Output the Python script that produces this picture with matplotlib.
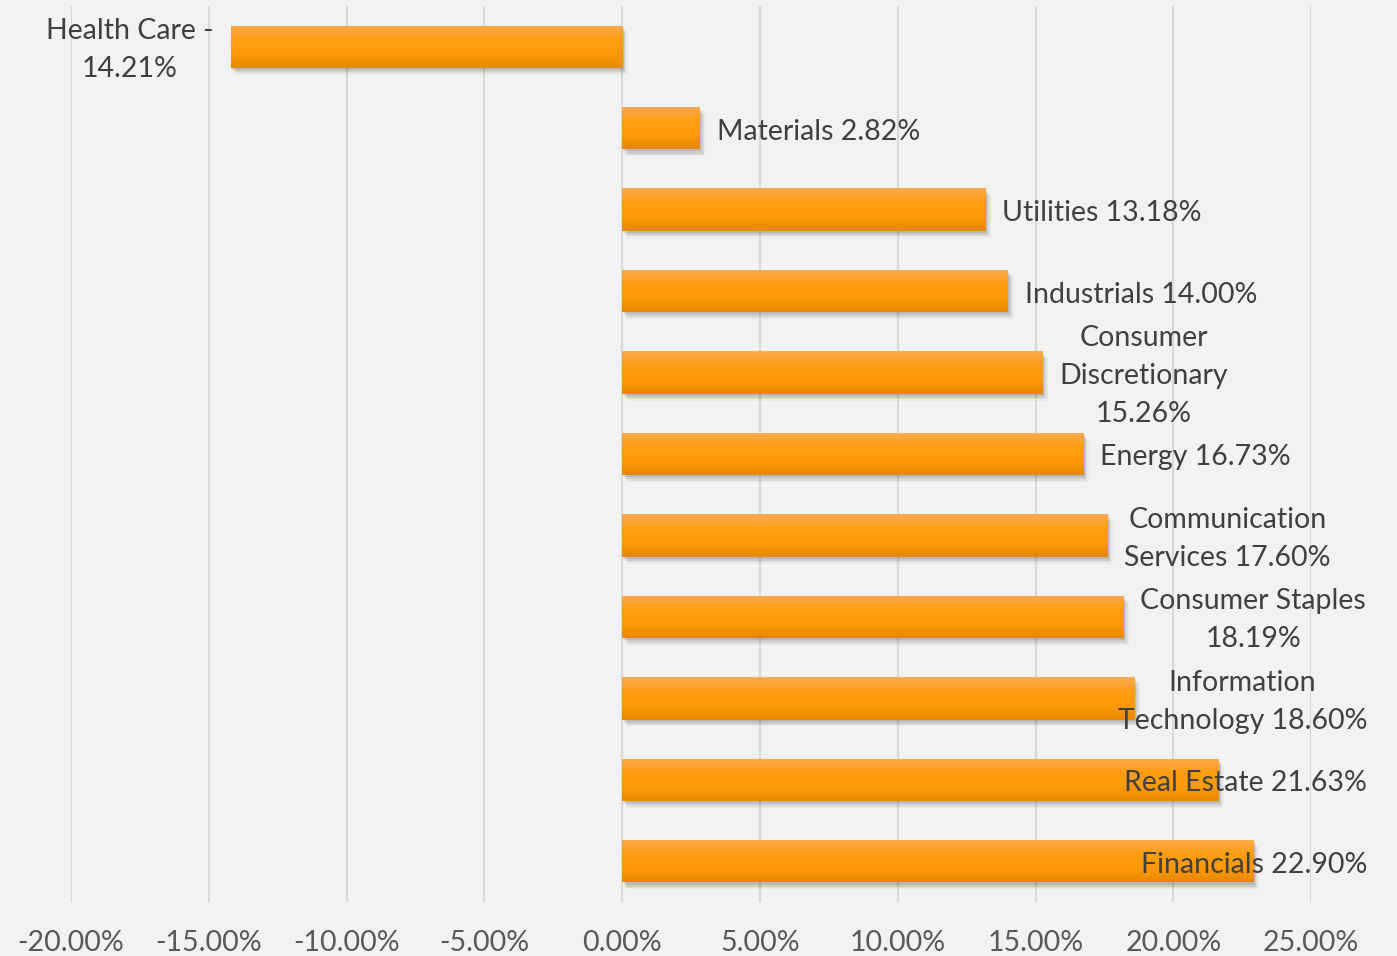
import textwrap

import matplotlib.pyplot as plt
import numpy as np
from matplotlib import patheffects
from matplotlib.colors import LinearSegmentedColormap
from matplotlib.ticker import FuncFormatter, MultipleLocator

# sector returns, top to bottom
sectors = ["Health Care", "Materials", "Utilities", "Industrials",
           "Consumer Discretionary", "Energy", "Communication Services",
           "Consumer Staples", "Information Technology", "Real Estate",
           "Financials"]
returns = [-14.21, 2.82, 13.18, 14.00, 15.26, 16.73, 17.60, 18.19, 18.60,
           21.63, 22.90]

x_min, x_max, x_step = -20, 25, 5

BG = "#f2f2f2"
GRID = "#d9d9d9"
LABEL_COLOR = "#404040"
TICK_COLOR = "#595959"
FONT = ["Lato", "DejaVu Sans"]
FS = 20.5
DPI = 100

plt.rcParams["font.family"] = FONT

fig = plt.figure(figsize=(13.97, 9.56), dpi=DPI, facecolor=BG)
ax = fig.add_axes([0.0508, 0.0565, 0.8877, 0.9372], facecolor=BG)

n = len(sectors)
ypos = np.arange(n)
bar_h = 0.52

shadow = [
    patheffects.SimplePatchShadow(offset=(1.0, -1.5), shadow_rgbFace="k", alpha=0.10),
    patheffects.SimplePatchShadow(offset=(2.0, -3.0), shadow_rgbFace="k", alpha=0.07),
    patheffects.SimplePatchShadow(offset=(3.0, -4.0), shadow_rgbFace="k", alpha=0.05),
    patheffects.SimplePatchShadow(offset=(4.0, -5.0), shadow_rgbFace="k", alpha=0.03),
    patheffects.Normal(),
]
bars = ax.barh(ypos, returns, height=bar_h, color="#ff9c0f", linewidth=0,
               zorder=3, path_effects=shadow)

# vertical orange gradient painted inside each bar
orange = LinearSegmentedColormap.from_list(
    "orange", ["#fbaa50", "#ff9d12", "#ff9a08", "#e68800"])
grad = np.linspace(0, 1, 64).reshape(-1, 1)
for b in bars:
    x0, y0 = b.get_x(), b.get_y()
    im = ax.imshow(grad, extent=[x0, x0 + b.get_width(), y0 + b.get_height(), y0],
                   aspect="auto", cmap=orange, zorder=4, interpolation="bicubic")
    im.set_clip_path(b)

ax.set_xlim(x_min, x_max)
ax.set_ylim(n - 0.5, -0.5)
ax.xaxis.set_major_locator(MultipleLocator(x_step))
ax.xaxis.set_major_formatter(FuncFormatter(lambda v, _: f"{v:.2f}%"))
ax.grid(axis="x", color=GRID, linewidth=1.5, zorder=0)
ax.set_yticks([])
ax.tick_params(axis="x", length=0, pad=20, labelsize=FS, labelcolor=TICK_COLOR)
for s in ax.spines.values():
    s.set_visible(False)


def wrap_label(text):
    out = textwrap.fill(text, width=18, break_on_hyphens=False)
    # keep a minus sign at the end of the previous line
    return out.replace("\n-", " -\n")


labels = []
for y, name, v in zip(ypos, sectors, returns):
    txt = wrap_label(f"{name} {v:.2f}%")
    off = 12.2 if v >= 0 else -12.2
    t = ax.annotate(txt, xy=(v, y), xytext=(off, -2.5), textcoords="offset points",
                    ha="left" if v >= 0 else "right", va="center",
                    multialignment="center", fontsize=FS, color=LABEL_COLOR,
                    linespacing=1.57, zorder=5, annotation_clip=False)
    labels.append(t)

# pull labels back inside the chart's right edge
fig.canvas.draw()
renderer = fig.canvas.get_renderer()
right_edge = 1367
for t in labels:
    bb = t.get_window_extent(renderer)
    if bb.x1 > right_edge:
        dx, dy = t.xyann
        t.xyann = (dx - (bb.x1 - right_edge) * 72 / DPI, dy)

fig.savefig("out.png", dpi=DPI, facecolor=BG)
